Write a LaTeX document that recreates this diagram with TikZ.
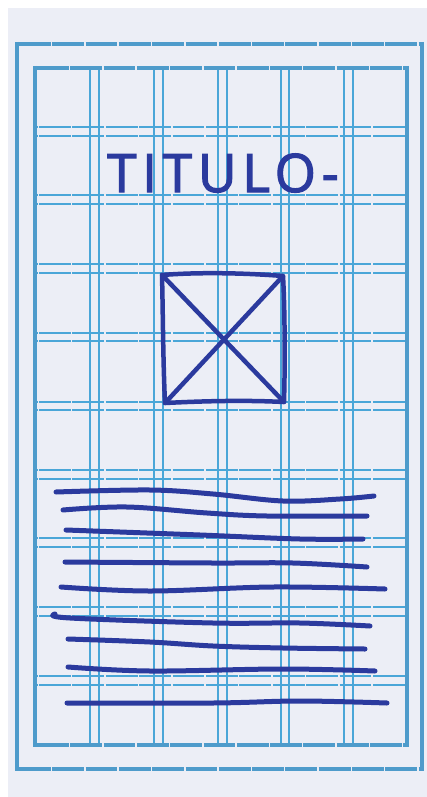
\documentclass[tikz,border=0pt]{standalone}
\usepackage{fontspec}
\newfontfamily\titlefont[LetterSpace=11, FakeBold=2.2]{Open Sans}
\definecolor{paper}{HTML}{ECEEF6}
\definecolor{frameblue}{HTML}{4E9BCB}
\definecolor{gridblue}{HTML}{4AA6D8}
\definecolor{ink}{HTML}{2B3A9E}
\tikzset{
  framebox/.style={draw=frameblue, line width=4pt, dash pattern=on 31.8pt off 1.5pt, dash phase=-2pt},
  framesides/.style={draw=frameblue, line width=4pt},
  gridv/.style={draw=gridblue, line width=1.4pt},
  gridh/.style={draw=gridblue, line width=1.4pt, dash pattern=on 31.8pt off 1.6pt, dash phase=-2pt},
  pen/.style={draw=ink, line width=4.5pt, line cap=round, line join=round},
  scribble/.style={pen, line width=5pt},
}
\begin{document}
\begin{tikzpicture}[x=1pt,y=-1pt]
\useasboundingbox (0,0) rectangle (427,797);
\fill[white] (0,0) rectangle (427,797);
\fill[paper] (8,8) rectangle (427,797);
% outer frame
\draw[framebox] (17,44) -- (422,44);
\draw[framebox] (17,769) -- (422,769);
\draw[framesides] (17,42) -- (17,771);
\draw[framesides] (422,42) -- (422,771);
% inner frame
\draw[framebox] (35,68) -- (407,68);
\draw[framebox] (35,745) -- (407,745);
\draw[framesides] (35,66) -- (35,747);
\draw[framesides] (407,66) -- (407,747);
% vertical grid lines
\foreach \x in {90,99,154,163,218,227,281,289,344,353}
  \draw[gridv] (\x,70) -- (\x,743);
% horizontal grid lines
\foreach \y in {127,136,195,204,264,273,333,341,402,410,470,479,538,547,607,616,676,685}
  \draw[gridh] (37,\y) -- (405,\y);
% title
\node[anchor=base, inner sep=0pt, text=ink, font=\titlefont\fontsize{53}{53}\selectfont] (title) at (223,192) {TITULO-};
% image placeholder box
\coordinate (tl) at (162,275);
\coordinate (tr) at (283,276);
\coordinate (bl) at (165,403);
\coordinate (br) at (284,402);
\draw[pen] (tl) .. controls (200,272) and (245,273) .. (tr)
  .. controls (285,310) and (285,370) .. (br)
  .. controls (245,400) and (205,401) .. (bl)
  .. controls (163,360) and (163,315) .. cycle;
\draw[pen] (tl) -- (br);
\draw[pen] (tr) -- (bl);
% text lines
\draw[scribble] plot[smooth, tension=0.6] coordinates {(56,492) (150,490) (213,494) (283,501) (340,499) (374,496)};
\draw[scribble] plot[smooth, tension=0.6] coordinates {(63,510) (127,507) (207,513) (267,516) (367,516)};
\draw[scribble] plot[smooth, tension=0.6] coordinates {(66,530) (200,535) (300,539) (363,539)};
\draw[scribble] plot[smooth, tension=0.6] coordinates {(65,562) (213,563) (293,563) (367,567)};
\draw[scribble] plot[smooth, tension=0.6] coordinates {(61,587) (150,591) (273,587) (385,589)};
\draw[scribble] plot[smooth, tension=0.6] coordinates {(55,614) (70,618) (213,623) (300,623) (370,626)};
\draw[scribble] plot[smooth, tension=0.6] coordinates {(68,639) (150,642) (213,646) (283,648) (365,649)};
\draw[scribble] plot[smooth, tension=0.6] coordinates {(68,667) (150,671) (283,669) (375,671)};
\draw[scribble] plot[smooth, tension=0.6] coordinates {(67,703) (213,703) (300,701) (387,703)};
\end{tikzpicture}
\end{document}
